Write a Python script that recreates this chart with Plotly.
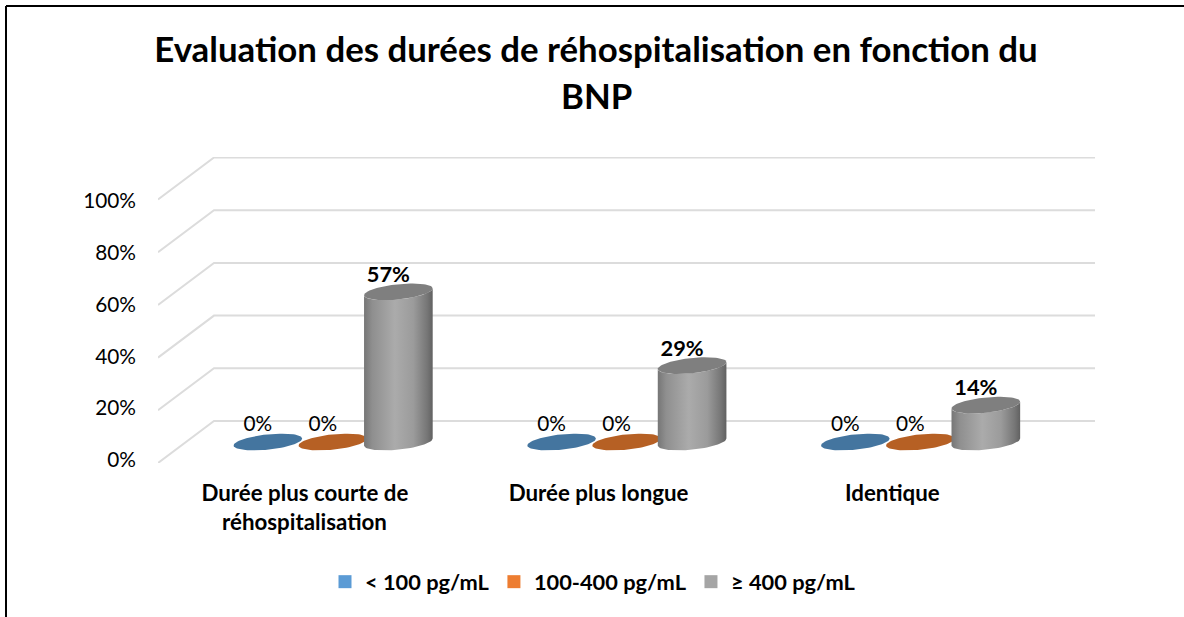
import numpy as np
import plotly.graph_objects as go

# ---- data ----
categories_line1 = ["Durée plus courte de", "Durée plus longue", "Identique"]
categories_line2 = ["réhospitalisation", "", ""]
series_names = ["< 100 pg/mL", "100-400 pg/mL", "≥ 400 pg/mL"]
low_values = [0, 0, 0]
mid_values = [0, 0, 0]
high_values = [57, 29, 14]
tick_values = [0, 20, 40, 60, 80, 100]
tick_labels = ["0%", "20%", "40%", "60%", "80%", "100%"]
title_line1 = "Evaluation des durées de réhospitalisation en fonction du"
title_line2 = "BNP"

# ---- style / geometry ----
W, H = 1184, 617
L, R, T, B = 158, 1095, 157, 463
X_RANGE = [-0.5, 2.69]
Y_RANGE = [0, 116.13]
PX_X = (R - L) / (X_RANGE[1] - X_RANGE[0])
PX_Y = (B - T) / (Y_RANGE[1] - Y_RANGE[0])
DEPTH_X, DEPTH_Y = 56 / PX_X, 42 / PX_Y
SERIES_OFFSET = [-65 / PX_X, 0, 65.5 / PX_X]
A, BB, ROT = 34.5, 7.6, np.radians(6)
LEGEND_COL = ["#5b9bd5", "#ed7d31", "#a5a5a5"]
TOP_COL = ["#44759f", "#b66024", "#7f7f7f"]
SIDE_SCALE = [[0, "#767676"], [0.12, "#8f8f8f"], [0.45, "#ababab"], [0.72, "#9b9b9b"],
              [0.92, "#767676"], [1, "#616161"]]
GRID = "#dcdcdc"
FONT = "Lato"
TEXT_SIZE = 20.8
BOLD_SIZE = 21.8
AXIS_BOLD_SIZE = 22.3
TITLE_SIZE = 34.8


def px(x):
    return (x - L) / (R - L)


def py(y):
    return (B - y) / (B - T)


def ellipse(cx, cy, t):
    ex = A * np.cos(t) * np.cos(ROT) + BB * np.sin(t) * np.sin(ROT)
    ey = A * np.cos(t) * np.sin(ROT) - BB * np.sin(t) * np.cos(ROT)
    return cx + ex / PX_X, cy + ey / PX_Y


fig = go.Figure()

# back wall gridlines and slanted side lines, from the tick values
gx, gy = [], []
for v in tick_values:
    gx += [X_RANGE[0], X_RANGE[0] + DEPTH_X, X_RANGE[1], None]
    gy += [v, v + DEPTH_Y, v + DEPTH_Y, None]
fig.add_trace(go.Scatter(x=gx, y=gy, mode="lines", line=dict(color=GRID, width=2),
                         showlegend=False, hoverinfo="skip"))

# invisible carrier for the label axis
fig.add_trace(go.Scatter(x=[0], y=[0], yaxis="y2", mode="none", showlegend=False, hoverinfo="skip"))

all_values = [low_values, mid_values, high_values]
t0 = np.arctan2(BB * np.sin(ROT), A * np.cos(ROT))
theta_low = np.linspace(t0, t0 + np.pi, 40)   # front half of the ellipse, right to left
theta_all = np.linspace(0, 2 * np.pi, 80)

for g in range(len(categories_line1)):
    for s, vals in enumerate(all_values):
        v = vals[g]
        cx = g + SERIES_OFFSET[s] + DEPTH_X / 2
        cy0 = DEPTH_Y / 2
        if v > 0:
            bx, by = ellipse(cx, cy0, theta_low)
            tx, ty = ellipse(cx, cy0 + v, theta_low[::-1])
            fig.add_trace(go.Scatter(
                x=list(bx) + list(tx), y=list(by) + list(ty), fill="toself", mode="lines",
                line=dict(width=0), fillgradient=dict(type="horizontal", colorscale=SIDE_SCALE),
                showlegend=False, hoverinfo="skip"))
        ex, ey = ellipse(cx, cy0 + v, theta_all)
        fig.add_trace(go.Scatter(x=ex, y=ey, fill="toself", mode="lines", line=dict(width=0),
                                 fillcolor=TOP_COL[s], showlegend=False, hoverinfo="skip"))

# value labels
for s, vals in enumerate(all_values):
    fig.add_trace(go.Scatter(
        x=[g + SERIES_OFFSET[s] + DEPTH_X / 2 - 10 / PX_X for g in range(len(vals))],
        y=[v + DEPTH_Y / 2 + (16.5 if v == 0 else 15.5) / PX_Y for v in vals],
        mode="text", text=[f"<b>{v}%</b>" if v else f"{v}%" for v in vals], textposition="middle center",
        textfont=dict(family=FONT, size=[BOLD_SIZE if v else TEXT_SIZE for v in vals], color="#000"),
        showlegend=False, hoverinfo="skip"))

# legend carriers
for s, name in enumerate(series_names):
    fig.add_trace(go.Scatter(x=[None], y=[None], mode="markers", name=name,
                             marker=dict(symbol="square", size=13, color=LEGEND_COL[s])))

# second lines of category labels
for g, t in enumerate(categories_line2):
    if t:
        fig.add_annotation(x=g, xref="x", y=py(529), yref="paper", text=f"<b>{t}</b>", showarrow=False,
                           yanchor="bottom", yshift=-8, font=dict(family=FONT, size=AXIS_BOLD_SIZE, color="#000"))

fig.add_annotation(x=px(596), xref="paper", y=py(95), yref="paper", text=f"<b>{title_line2}</b>",
                   showarrow=False, yanchor="middle", font=dict(family=FONT, size=TITLE_SIZE, color="#000"))

border = dict(color="#000", width=2)
fig.add_shape(type="line", xref="paper", yref="paper", x0=px(6), x1=px(6), y0=py(6), y1=py(H), line=border)
fig.add_shape(type="line", xref="paper", yref="paper", x0=px(6), x1=px(W), y0=py(6), y1=py(6), line=border)

fig.update_layout(
    width=W, height=H, margin=dict(l=L, r=W - R, t=T, b=H - B),
    paper_bgcolor="white", plot_bgcolor="white",
    title=dict(text=f"<b>{title_line1}</b>", x=596 / W, xanchor="center", y=1 - 50 / H, yanchor="middle",
               font=dict(family=FONT, size=TITLE_SIZE, color="#000")),
    xaxis=dict(range=X_RANGE, tickmode="array", tickvals=list(range(len(categories_line1))),
               ticktext=[f"<b>{t}</b>" for t in categories_line1], showgrid=False, zeroline=False,
               showline=False, ticks="", ticklabelstandoff=15,
               tickfont=dict(family=FONT, size=AXIS_BOLD_SIZE, color="#000")),
    yaxis=dict(range=Y_RANGE, showgrid=False, zeroline=False, showline=False, showticklabels=False, ticks=""),
    yaxis2=dict(overlaying="y", side="left", anchor="x",
                range=[-3 / 2.59, (460 - T) / 2.59], tickmode="array", tickvals=tick_values,
                ticktext=tick_labels, showgrid=False, zeroline=False, showline=False, ticks="",
                ticklabelstandoff=21, tickfont=dict(family=FONT, size=TEXT_SIZE, color="#000")),
    legend=dict(orientation="h", x=px(325), xanchor="left", y=py(582), yanchor="middle",
                font=dict(family=FONT, size=BOLD_SIZE, color="#000", weight="bold"),
                bgcolor="rgba(0,0,0,0)"),
    showlegend=True,
)

fig.write_html("out.html", config={"displayModeBar": False},
               post_script="document.body.style.margin='0';")
